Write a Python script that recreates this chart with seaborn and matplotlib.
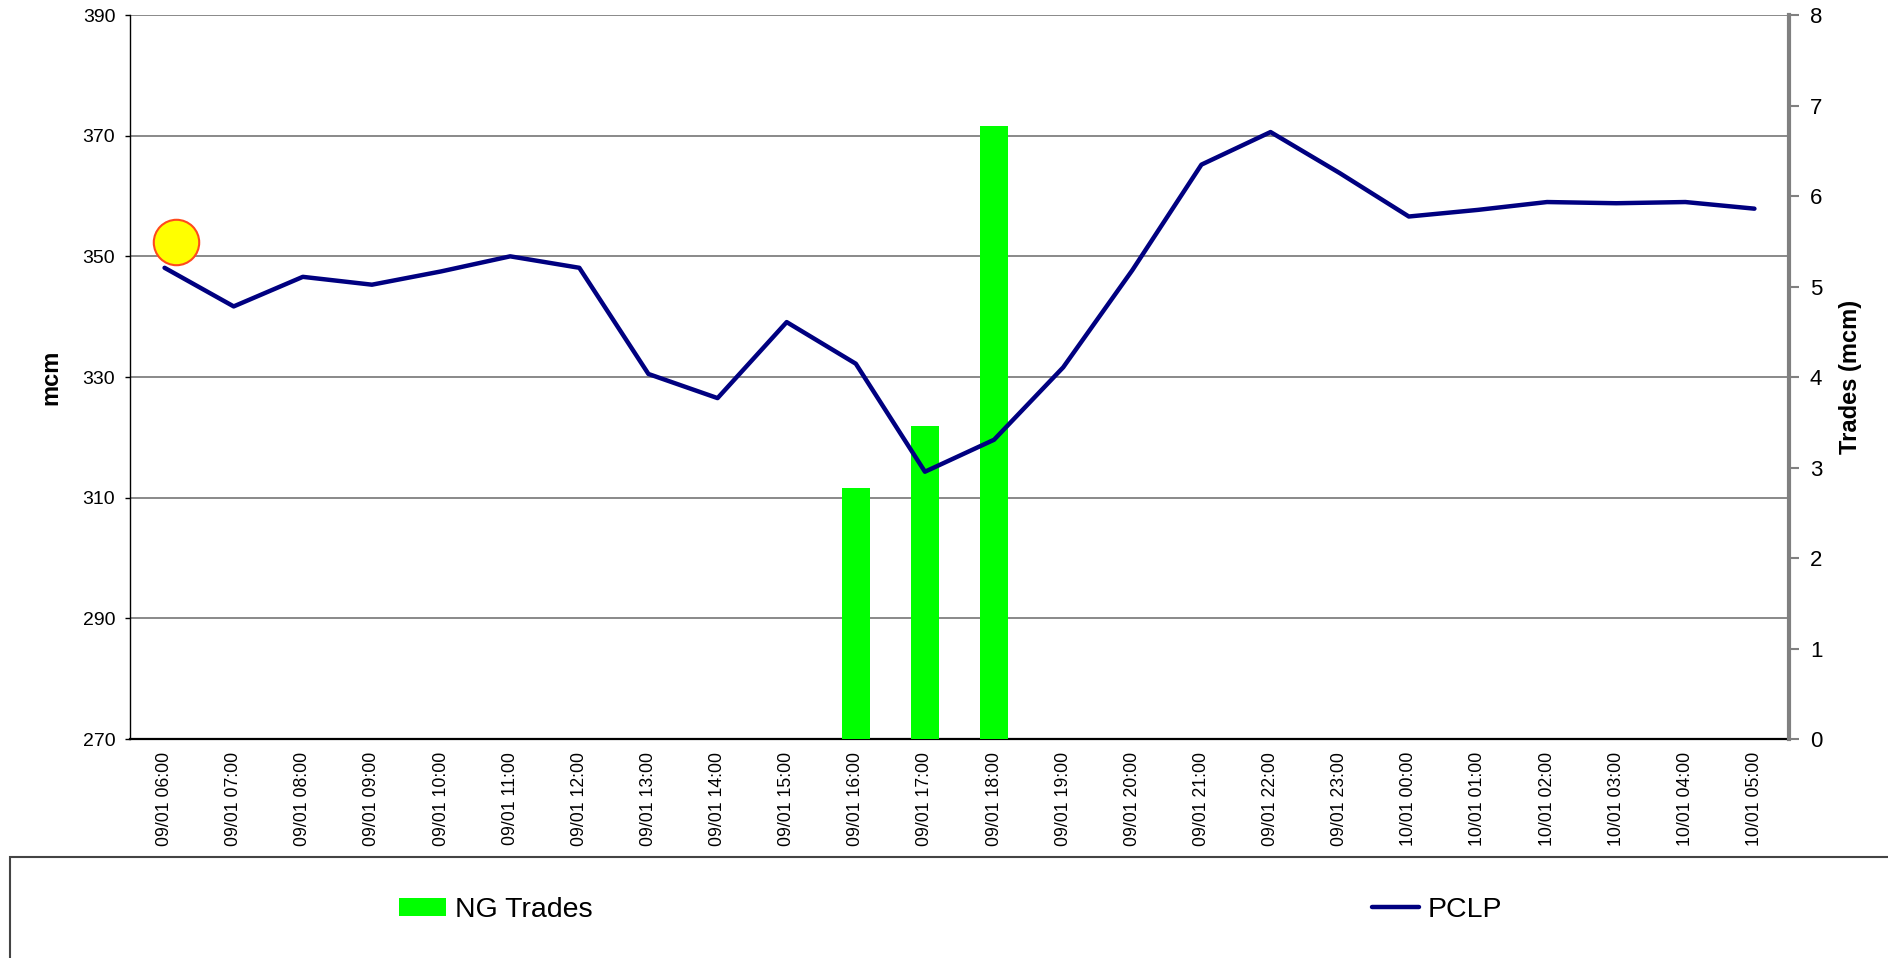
import numpy as np
import matplotlib
matplotlib.use("Agg")
import matplotlib.pyplot as plt
from matplotlib.patches import Rectangle, Patch
from matplotlib.lines import Line2D
import seaborn as sns

hours = ["09/01 06:00", "09/01 07:00", "09/01 08:00", "09/01 09:00",
         "09/01 10:00", "09/01 11:00", "09/01 12:00", "09/01 13:00",
         "09/01 14:00", "09/01 15:00", "09/01 16:00", "09/01 17:00",
         "09/01 18:00", "09/01 19:00", "09/01 20:00", "09/01 21:00",
         "09/01 22:00", "09/01 23:00", "10/01 00:00", "10/01 01:00",
         "10/01 02:00", "10/01 03:00", "10/01 04:00", "10/01 05:00"]
pclp = [348.1, 341.7, 346.6, 345.3, 347.5, 350.0, 348.1, 330.5,
        326.5, 339.1, 332.2, 314.3, 319.6, 331.6, 347.7, 365.2,
        370.6, 363.8, 356.6, 357.7, 359.0, 358.8, 359.0, 357.9]
trades = [0, 0, 0, 0, 0, 0, 0, 0, 0, 0, 2.77, 3.46,
          6.77, 0, 0, 0, 0, 0, 0, 0, 0, 0, 0, 0]
# yellow flag marker near the first hour
flag_x, flag_y = 0.165, 352.3

mcm_ticks = np.arange(270, 391, 20)
trade_ticks = np.arange(0, 9, 1)

sns.set_theme(style="white")
plt.rcParams['font.family'] = ['Liberation Sans', 'DejaVu Sans']
plt.rcParams.update({"text.color": "black", "axes.labelcolor": "black",
                     "xtick.color": "black", "ytick.color": "black"})

fig = plt.figure(figsize=(18.88, 9.58), dpi=100)
ax = fig.add_axes([130 / 1888, 1 - 739 / 958, 1659 / 1888, 724 / 958])
ax2 = ax.twinx()   # trades bars
ax3 = ax.twinx()   # PCLP line on top

sns.barplot(x=hours, y=trades, color="#00FF00", saturation=1, width=0.4,
            errorbar=None, linewidth=0, ax=ax2)
sns.pointplot(x=hours, y=pclp, color="#000080", markers="", linestyles="-",
              errorbar=None, linewidth=3.2, ax=ax3)
ax3.scatter([flag_x], [flag_y], s=1070, color="#FFFF00", edgecolor="#FF4A1C",
            linewidth=1.5, zorder=5, clip_on=False)
ax.set_xlim(-0.5, len(hours) - 0.5)

# left axis (mcm) with grid
ax.set_ylim(270, 390)
ax.set_yticks(mcm_ticks)
ax.yaxis.grid(True, color="#808080", linewidth=1.3)
ax.xaxis.grid(False)
ax.set_ylabel("mcm", fontsize=17, fontweight="bold")
ax.yaxis.set_label_coords(-0.041, 0.5)
ax.tick_params(axis="y", left=True, length=3.6, width=1, color="black",
               labelcolor="black", pad=7, labelsize=14)
ax.tick_params(axis="x", length=0, pad=9.4, labelsize=12.7, labelrotation=90,
               labelcolor="black")
for s in ["top", "right"]:
    ax.spines[s].set_visible(False)
ax.spines["left"].set_color("black")
ax.spines["left"].set_linewidth(1)
ax.spines["bottom"].set_color("black")
ax.spines["bottom"].set_linewidth(1.6)

# right axis (trades)
ax2.set_ylim(0, 8)
ax2.set_yticks(trade_ticks)
ax2.set_ylabel("Trades (mcm)", fontsize=17, fontweight="bold")
ax2.yaxis.set_label_coords(1.03, 0.5)
ax2.tick_params(axis="y", right=True, length=7, width=1.5, color="#808080",
                labelcolor="black", pad=8, labelsize=16)
for s in ["top", "left", "bottom"]:
    ax2.spines[s].set_visible(False)
ax2.spines["right"].set_color("#808080")
ax2.spines["right"].set_linewidth(3)

ax3.set_ylim(270, 390)
ax3.set_axis_off()

# legend box along the bottom
fig.patches.append(Rectangle((10 / 1888, -0.05), 1.2, (958 - 857) / 958 + 0.05,
                             transform=fig.transFigure, facecolor="none",
                             edgecolor="#444444", linewidth=1.5))
handles = [Patch(facecolor="#00FF00", edgecolor="none", label="NG Trades"),
           Line2D([], [], color="#000080", linewidth=3.2,
                  solid_capstyle="round", label="PCLP")]
fig.legend(handles=handles, loc="center left",
           bbox_to_anchor=(399 / 1888, 1 - 910 / 958), ncol=2, frameon=False,
           fontsize=20.5, handlelength=1.65, handleheight=0.6,
           handletextpad=0.3, columnspacing=27.4, borderpad=0,
           borderaxespad=0)

fig.savefig("out.png", dpi=100)
